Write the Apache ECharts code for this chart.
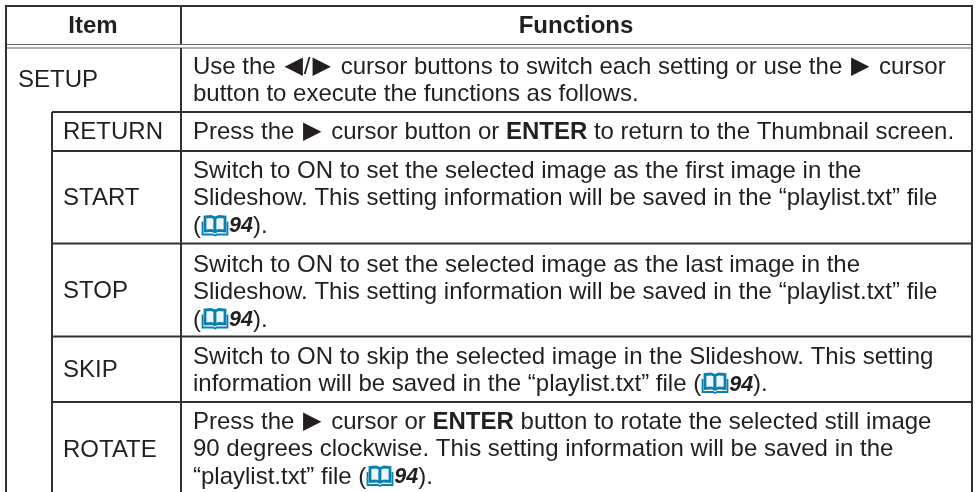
<!DOCTYPE html>
<html>
<head>
<meta charset="utf-8">
<style>html,body{margin:0;padding:0;background:#fff}#main{width:976px;height:492px}</style>
<script src="https://cdn.jsdelivr.net/npm/echarts@6/dist/echarts.min.js"></script>
</head>
<body>
<div id="main"></div>
<script>
var headers = ["Item", "Functions"];
var items = ["SETUP", "RETURN", "START", "STOP", "SKIP", "ROTATE"];
// {b|} bold, {l|} {t|} triangle glyphs, {k|} gap where the book icon goes, {n|} bold italic page number
var functions = [
  ["Use the {l|◀}/{t|▶} cursor buttons to switch each setting or use the {t|▶} cursor", "button to execute the functions as follows."],
  ["Press the {t|▶} cursor button or {b|ENTER} to return to the Thumbnail screen."],
  ["Switch to ON to set the selected image as the first image in the", "Slideshow. This setting information will be saved in the “playlist.txt” file", "({k|}{n|94})."],
  ["Switch to ON to set the selected image as the last image in the", "Slideshow. This setting information will be saved in the “playlist.txt” file", "({k|}{n|94})."],
  ["Switch to ON to skip the selected image in the Slideshow. This setting", "information will be saved in the “playlist.txt” file ({k|}{n|94})."],
  ["Press the {t|▶} cursor or {b|ENTER} button to rotate the selected still image", "90 degrees clockwise. This setting information will be saved in the", "“playlist.txt” file ({k|}{n|94})."]
];

var font = '"Liberation Sans", Arial, sans-serif';
var textColor = "#231f20";
var lineColor = "#333132";
var bookColor = "#0b7fb0";
var fontSize = 24;
var lineStep = 27.6;
var itemX = [18, 63, 63, 63, 63, 63];
var itemY = [80, 132, 198, 291, 370, 450];
var firstLineY = [67, 132, 171, 265, 357, 422];

var triangle = { fontFamily: "DejaVu Sans", fontSize: 24, fill: textColor };
var richStyles = {
  b: { fontFamily: font, fontSize: fontSize, fontWeight: "bold", fill: textColor },
  t: Object.assign({ padding: [0, 3, 0, 2] }, triangle),
  l: Object.assign({ padding: [0, 1, 0, 2] }, triangle),
  k: { width: 28, height: 10 },
  n: { fontFamily: font, fontSize: 21.5, fontWeight: "bold", fontStyle: "italic", fill: textColor }
};

function hline(x1, x2, y, w, color) {
  return { type: "line", silent: true, shape: { x1: x1, y1: y, x2: x2, y2: y }, style: { stroke: color || lineColor, lineWidth: w || 2 } };
}
function vline(x, y1, y2, w) {
  return { type: "line", silent: true, shape: { x1: x, y1: y1, x2: x, y2: y2 }, style: { stroke: lineColor, lineWidth: w || 2 } };
}
function label(text, x, y, align, weight) {
  return {
    type: "text", x: x, y: y, silent: true,
    style: {
      text: text, font: (weight || "normal") + " " + fontSize + "px " + font, fill: textColor,
      align: align || "left", verticalAlign: "middle", rich: richStyles
    }
  };
}
// open book icon, 26 x 20 px
function book(x, y) {
  var pageStyle = { fill: "#eef8fc", stroke: bookColor, lineWidth: 2.8 };
  return {
    type: "group", x: x, y: y, silent: true,
    children: [
      { type: "polyline", shape: { points: [[0.5, 6], [0.5, 19], [11, 19], [13, 20], [15, 19], [25.5, 19], [25.5, 6]] }, style: { fill: null, stroke: bookColor, lineWidth: 1.8 } },
      { type: "polygon", shape: { points: [[3, 1.5], [9, 1], [13, 2.5], [13, 16], [9, 15], [3, 15.5]] }, style: pageStyle },
      { type: "polygon", shape: { points: [[13, 2.5], [17, 1], [23, 1.5], [23, 15.5], [17, 15], [13, 16]] }, style: pageStyle }
    ]
  };
}

var elements = [
  hline(5, 973, 6),
  hline(5, 973, 44.5, 1.2, "#666"),
  hline(5, 973, 48, 1.2, "#666"),
  hline(52, 973, 112),
  hline(52, 973, 151),
  hline(52, 973, 243.5),
  hline(52, 973, 336.5),
  hline(52, 973, 402),
  vline(6, 6, 492),
  vline(972, 6, 492),
  vline(181, 6, 44),
  vline(181, 48, 492),
  vline(52, 112, 492)
];
elements.push(label(headers[0], 93, 26, "center", "bold"));
elements.push(label(headers[1], 576, 26, "center", "bold"));
items.forEach(function (name, i) {
  elements.push(label(name, itemX[i], itemY[i]));
});
functions.forEach(function (lines, i) {
  lines.forEach(function (line, j) {
    elements.push(label(line, 193, firstLineY[i] + j * lineStep));
  });
});
elements.push(book(202, 215.5));
elements.push(book(202, 308.5));
elements.push(book(702, 373));
elements.push(book(367, 466));

var myChart = echarts.init(document.getElementById("main"));
myChart.setOption({
  backgroundColor: "#fff",
  animation: false,
  graphic: { elements: elements }
});
</script>
</body>
</html>
